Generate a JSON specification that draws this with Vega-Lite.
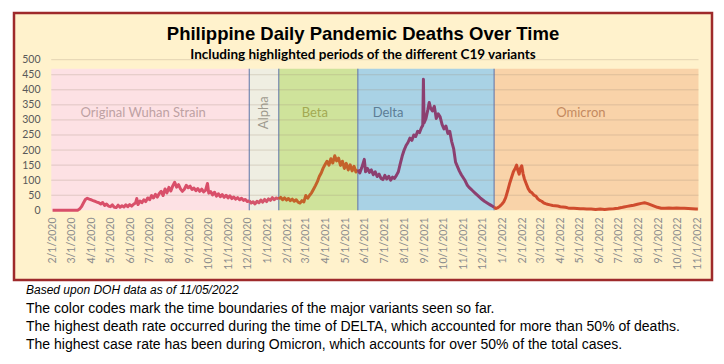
{
  "$schema": "https://vega.github.io/schema/vega-lite/v6.json",
  "autosize": {"type": "pad"},
  "padding": {"left": 12, "top": 11, "right": 0, "bottom": 0},
  "background": "white",
  "title": {
    "text": "Based upon DOH data as of 11/05/2022",
    "subtitle": [
      "The color codes mark the time boundaries of the major variants seen so far.",
      "The highest death rate occurred during the time of DELTA, which accounted for more than 50% of deaths.",
      "The highest case rate has been during Omicron, which accounts for over 50% of the total cases."
    ],
    "orient": "bottom",
    "anchor": "start",
    "frame": "group",
    "offset": 4,
    "dx": 12,
    "font": "Liberation Sans",
    "fontSize": 12,
    "fontStyle": "italic",
    "fontWeight": "normal",
    "color": "#000000",
    "subtitleFont": "Liberation Sans",
    "subtitleFontSize": 14,
    "subtitleColor": "#000000",
    "subtitleLineHeight": 17.8,
    "subtitlePadding": 5
  },
  "datasets": {
    "periods": [
      {"variant": "Wuhan", "start": "2020-01-30", "end": "2020-12-03"},
      {"variant": "Alpha", "start": "2020-12-03", "end": "2021-01-18"},
      {"variant": "Beta", "start": "2021-01-18", "end": "2021-05-21"},
      {"variant": "Delta", "start": "2021-05-21", "end": "2021-12-19"},
      {"variant": "Omicron", "start": "2021-12-19", "end": "2022-11-02"}
    ],
    "labels": [
      {"variant": "Wuhan", "text": "Original Wuhan Strain", "d": "2020-06-21", "v": 323},
      {"variant": "Alpha", "text": "Alpha", "d": "2020-12-26", "v": 324},
      {"variant": "Beta", "text": "Beta", "d": "2021-03-15", "v": 323},
      {"variant": "Delta", "text": "Delta", "d": "2021-07-07", "v": 323},
      {"variant": "Omicron", "text": "Omicron", "d": "2022-05-03", "v": 323}
    ],
    "grid": [{"v": 50}, {"v": 100}, {"v": 150}, {"v": 200}, {"v": 250}, {"v": 300}, {"v": 350}, {"v": 400}, {"v": 450}, {"v": 500}],
    "deaths": [
      {"d": "2020-02-01", "v": 0, "p": "Wuhan"}, {"d": "2020-02-15", "v": 0, "p": "Wuhan"}, {"d": "2020-03-01", "v": 0, "p": "Wuhan"}, {"d": "2020-03-11", "v": 0, "p": "Wuhan"},
      {"d": "2020-03-14", "v": 4, "p": "Wuhan"}, {"d": "2020-03-17", "v": 12, "p": "Wuhan"}, {"d": "2020-03-20", "v": 24, "p": "Wuhan"}, {"d": "2020-03-23", "v": 36, "p": "Wuhan"},
      {"d": "2020-03-26", "v": 40, "p": "Wuhan"}, {"d": "2020-03-29", "v": 37, "p": "Wuhan"}, {"d": "2020-04-01", "v": 35, "p": "Wuhan"}, {"d": "2020-04-04", "v": 32, "p": "Wuhan"},
      {"d": "2020-04-07", "v": 30, "p": "Wuhan"}, {"d": "2020-04-10", "v": 27, "p": "Wuhan"}, {"d": "2020-04-13", "v": 25, "p": "Wuhan"}, {"d": "2020-04-16", "v": 21, "p": "Wuhan"},
      {"d": "2020-04-19", "v": 26, "p": "Wuhan"}, {"d": "2020-04-22", "v": 16, "p": "Wuhan"}, {"d": "2020-04-25", "v": 21, "p": "Wuhan"}, {"d": "2020-04-28", "v": 14, "p": "Wuhan"},
      {"d": "2020-05-01", "v": 12, "p": "Wuhan"}, {"d": "2020-05-04", "v": 18, "p": "Wuhan"}, {"d": "2020-05-07", "v": 10, "p": "Wuhan"}, {"d": "2020-05-10", "v": 9, "p": "Wuhan"},
      {"d": "2020-05-13", "v": 17, "p": "Wuhan"}, {"d": "2020-05-16", "v": 10, "p": "Wuhan"}, {"d": "2020-05-19", "v": 15, "p": "Wuhan"}, {"d": "2020-05-22", "v": 11, "p": "Wuhan"},
      {"d": "2020-05-25", "v": 18, "p": "Wuhan"}, {"d": "2020-05-28", "v": 12, "p": "Wuhan"}, {"d": "2020-05-31", "v": 19, "p": "Wuhan"}, {"d": "2020-06-03", "v": 14, "p": "Wuhan"},
      {"d": "2020-06-06", "v": 20, "p": "Wuhan"}, {"d": "2020-06-09", "v": 24, "p": "Wuhan"}, {"d": "2020-06-11", "v": 39, "p": "Wuhan"}, {"d": "2020-06-13", "v": 19, "p": "Wuhan"},
      {"d": "2020-06-16", "v": 31, "p": "Wuhan"}, {"d": "2020-06-19", "v": 25, "p": "Wuhan"}, {"d": "2020-06-22", "v": 35, "p": "Wuhan"}, {"d": "2020-06-25", "v": 29, "p": "Wuhan"},
      {"d": "2020-06-28", "v": 41, "p": "Wuhan"}, {"d": "2020-07-01", "v": 35, "p": "Wuhan"}, {"d": "2020-07-04", "v": 49, "p": "Wuhan"}, {"d": "2020-07-07", "v": 41, "p": "Wuhan"},
      {"d": "2020-07-10", "v": 53, "p": "Wuhan"}, {"d": "2020-07-13", "v": 44, "p": "Wuhan"}, {"d": "2020-07-16", "v": 56, "p": "Wuhan"}, {"d": "2020-07-19", "v": 63, "p": "Wuhan"},
      {"d": "2020-07-22", "v": 49, "p": "Wuhan"}, {"d": "2020-07-25", "v": 71, "p": "Wuhan"}, {"d": "2020-07-28", "v": 58, "p": "Wuhan"}, {"d": "2020-07-31", "v": 76, "p": "Wuhan"},
      {"d": "2020-08-03", "v": 64, "p": "Wuhan"}, {"d": "2020-08-06", "v": 81, "p": "Wuhan"}, {"d": "2020-08-09", "v": 93, "p": "Wuhan"}, {"d": "2020-08-12", "v": 77, "p": "Wuhan"},
      {"d": "2020-08-15", "v": 85, "p": "Wuhan"}, {"d": "2020-08-18", "v": 71, "p": "Wuhan"}, {"d": "2020-08-21", "v": 63, "p": "Wuhan"}, {"d": "2020-08-24", "v": 70, "p": "Wuhan"},
      {"d": "2020-08-27", "v": 83, "p": "Wuhan"}, {"d": "2020-08-30", "v": 75, "p": "Wuhan"}, {"d": "2020-09-02", "v": 80, "p": "Wuhan"}, {"d": "2020-09-05", "v": 69, "p": "Wuhan"},
      {"d": "2020-09-08", "v": 74, "p": "Wuhan"}, {"d": "2020-09-11", "v": 65, "p": "Wuhan"}, {"d": "2020-09-14", "v": 72, "p": "Wuhan"}, {"d": "2020-09-17", "v": 63, "p": "Wuhan"},
      {"d": "2020-09-20", "v": 70, "p": "Wuhan"}, {"d": "2020-09-23", "v": 61, "p": "Wuhan"}, {"d": "2020-09-26", "v": 66, "p": "Wuhan"}, {"d": "2020-09-29", "v": 89, "p": "Wuhan"},
      {"d": "2020-10-01", "v": 57, "p": "Wuhan"}, {"d": "2020-10-04", "v": 62, "p": "Wuhan"}, {"d": "2020-10-07", "v": 51, "p": "Wuhan"}, {"d": "2020-10-10", "v": 60, "p": "Wuhan"},
      {"d": "2020-10-13", "v": 47, "p": "Wuhan"}, {"d": "2020-10-16", "v": 55, "p": "Wuhan"}, {"d": "2020-10-19", "v": 45, "p": "Wuhan"}, {"d": "2020-10-22", "v": 52, "p": "Wuhan"},
      {"d": "2020-10-25", "v": 43, "p": "Wuhan"}, {"d": "2020-10-28", "v": 50, "p": "Wuhan"}, {"d": "2020-10-31", "v": 41, "p": "Wuhan"}, {"d": "2020-11-03", "v": 48, "p": "Wuhan"},
      {"d": "2020-11-06", "v": 39, "p": "Wuhan"}, {"d": "2020-11-09", "v": 44, "p": "Wuhan"}, {"d": "2020-11-12", "v": 37, "p": "Wuhan"}, {"d": "2020-11-15", "v": 42, "p": "Wuhan"},
      {"d": "2020-11-18", "v": 35, "p": "Wuhan"}, {"d": "2020-11-21", "v": 40, "p": "Wuhan"}, {"d": "2020-11-24", "v": 33, "p": "Wuhan"}, {"d": "2020-11-27", "v": 36, "p": "Wuhan"},
      {"d": "2020-11-30", "v": 29, "p": "Wuhan"}, {"d": "2020-12-03", "v": 32, "p": "Wuhan"},
      {"d": "2020-12-03", "v": 32, "p": "Alpha"}, {"d": "2020-12-06", "v": 24, "p": "Alpha"}, {"d": "2020-12-09", "v": 28, "p": "Alpha"}, {"d": "2020-12-12", "v": 21, "p": "Alpha"},
      {"d": "2020-12-15", "v": 30, "p": "Alpha"}, {"d": "2020-12-18", "v": 25, "p": "Alpha"}, {"d": "2020-12-21", "v": 34, "p": "Alpha"}, {"d": "2020-12-24", "v": 27, "p": "Alpha"},
      {"d": "2020-12-27", "v": 36, "p": "Alpha"}, {"d": "2020-12-30", "v": 29, "p": "Alpha"}, {"d": "2021-01-02", "v": 38, "p": "Alpha"}, {"d": "2021-01-05", "v": 33, "p": "Alpha"},
      {"d": "2021-01-08", "v": 42, "p": "Alpha"}, {"d": "2021-01-11", "v": 35, "p": "Alpha"}, {"d": "2021-01-14", "v": 41, "p": "Alpha"}, {"d": "2021-01-18", "v": 38, "p": "Alpha"},
      {"d": "2021-01-18", "v": 38, "p": "Beta"}, {"d": "2021-01-21", "v": 43, "p": "Beta"}, {"d": "2021-01-24", "v": 35, "p": "Beta"}, {"d": "2021-01-27", "v": 41, "p": "Beta"},
      {"d": "2021-01-30", "v": 34, "p": "Beta"}, {"d": "2021-02-02", "v": 39, "p": "Beta"}, {"d": "2021-02-05", "v": 32, "p": "Beta"}, {"d": "2021-02-08", "v": 37, "p": "Beta"},
      {"d": "2021-02-11", "v": 30, "p": "Beta"}, {"d": "2021-02-14", "v": 35, "p": "Beta"}, {"d": "2021-02-17", "v": 27, "p": "Beta"}, {"d": "2021-02-20", "v": 24, "p": "Beta"},
      {"d": "2021-02-23", "v": 32, "p": "Beta"}, {"d": "2021-02-26", "v": 28, "p": "Beta"}, {"d": "2021-03-01", "v": 49, "p": "Beta"}, {"d": "2021-03-04", "v": 40, "p": "Beta"},
      {"d": "2021-03-07", "v": 50, "p": "Beta"}, {"d": "2021-03-10", "v": 58, "p": "Beta"}, {"d": "2021-03-13", "v": 70, "p": "Beta"}, {"d": "2021-03-16", "v": 82, "p": "Beta"},
      {"d": "2021-03-19", "v": 95, "p": "Beta"}, {"d": "2021-03-22", "v": 112, "p": "Beta"}, {"d": "2021-03-25", "v": 124, "p": "Beta"}, {"d": "2021-03-28", "v": 140, "p": "Beta"},
      {"d": "2021-03-31", "v": 152, "p": "Beta"}, {"d": "2021-04-03", "v": 163, "p": "Beta"}, {"d": "2021-04-06", "v": 150, "p": "Beta"}, {"d": "2021-04-09", "v": 171, "p": "Beta"},
      {"d": "2021-04-12", "v": 157, "p": "Beta"}, {"d": "2021-04-15", "v": 181, "p": "Beta"}, {"d": "2021-04-18", "v": 164, "p": "Beta"}, {"d": "2021-04-21", "v": 173, "p": "Beta"},
      {"d": "2021-04-24", "v": 149, "p": "Beta"}, {"d": "2021-04-27", "v": 163, "p": "Beta"}, {"d": "2021-04-30", "v": 139, "p": "Beta"}, {"d": "2021-05-03", "v": 156, "p": "Beta"},
      {"d": "2021-05-06", "v": 134, "p": "Beta"}, {"d": "2021-05-09", "v": 151, "p": "Beta"}, {"d": "2021-05-12", "v": 131, "p": "Beta"}, {"d": "2021-05-15", "v": 146, "p": "Beta"},
      {"d": "2021-05-18", "v": 127, "p": "Beta"}, {"d": "2021-05-21", "v": 135, "p": "Beta"},
      {"d": "2021-05-21", "v": 135, "p": "Delta"}, {"d": "2021-05-24", "v": 124, "p": "Delta"}, {"d": "2021-05-27", "v": 141, "p": "Delta"}, {"d": "2021-05-31", "v": 169, "p": "Delta"},
      {"d": "2021-06-02", "v": 128, "p": "Delta"}, {"d": "2021-06-05", "v": 139, "p": "Delta"}, {"d": "2021-06-08", "v": 126, "p": "Delta"}, {"d": "2021-06-11", "v": 134, "p": "Delta"},
      {"d": "2021-06-14", "v": 118, "p": "Delta"}, {"d": "2021-06-17", "v": 128, "p": "Delta"}, {"d": "2021-06-20", "v": 112, "p": "Delta"}, {"d": "2021-06-23", "v": 120, "p": "Delta"},
      {"d": "2021-06-26", "v": 106, "p": "Delta"}, {"d": "2021-06-29", "v": 102, "p": "Delta"}, {"d": "2021-07-02", "v": 116, "p": "Delta"}, {"d": "2021-07-05", "v": 104, "p": "Delta"},
      {"d": "2021-07-08", "v": 113, "p": "Delta"}, {"d": "2021-07-11", "v": 100, "p": "Delta"}, {"d": "2021-07-14", "v": 110, "p": "Delta"}, {"d": "2021-07-17", "v": 106, "p": "Delta"},
      {"d": "2021-07-20", "v": 116, "p": "Delta"}, {"d": "2021-07-23", "v": 128, "p": "Delta"}, {"d": "2021-07-26", "v": 155, "p": "Delta"}, {"d": "2021-07-29", "v": 180, "p": "Delta"},
      {"d": "2021-08-01", "v": 200, "p": "Delta"}, {"d": "2021-08-04", "v": 215, "p": "Delta"}, {"d": "2021-08-07", "v": 225, "p": "Delta"}, {"d": "2021-08-10", "v": 240, "p": "Delta"},
      {"d": "2021-08-13", "v": 232, "p": "Delta"}, {"d": "2021-08-16", "v": 250, "p": "Delta"}, {"d": "2021-08-19", "v": 245, "p": "Delta"}, {"d": "2021-08-22", "v": 262, "p": "Delta"},
      {"d": "2021-08-25", "v": 258, "p": "Delta"}, {"d": "2021-08-28", "v": 275, "p": "Delta"}, {"d": "2021-08-30", "v": 282, "p": "Delta"}, {"d": "2021-08-31", "v": 435, "p": "Delta"},
      {"d": "2021-09-01", "v": 290, "p": "Delta"}, {"d": "2021-09-04", "v": 305, "p": "Delta"}, {"d": "2021-09-07", "v": 335, "p": "Delta"}, {"d": "2021-09-09", "v": 358, "p": "Delta"},
      {"d": "2021-09-11", "v": 340, "p": "Delta"}, {"d": "2021-09-14", "v": 330, "p": "Delta"}, {"d": "2021-09-17", "v": 345, "p": "Delta"}, {"d": "2021-09-20", "v": 305, "p": "Delta"},
      {"d": "2021-09-23", "v": 320, "p": "Delta"}, {"d": "2021-09-26", "v": 310, "p": "Delta"}, {"d": "2021-09-29", "v": 285, "p": "Delta"}, {"d": "2021-10-02", "v": 270, "p": "Delta"},
      {"d": "2021-10-05", "v": 280, "p": "Delta"}, {"d": "2021-10-08", "v": 255, "p": "Delta"}, {"d": "2021-10-11", "v": 262, "p": "Delta"}, {"d": "2021-10-14", "v": 228, "p": "Delta"},
      {"d": "2021-10-17", "v": 205, "p": "Delta"}, {"d": "2021-10-20", "v": 160, "p": "Delta"}, {"d": "2021-10-23", "v": 145, "p": "Delta"}, {"d": "2021-10-26", "v": 130, "p": "Delta"},
      {"d": "2021-10-29", "v": 118, "p": "Delta"}, {"d": "2021-11-01", "v": 108, "p": "Delta"}, {"d": "2021-11-04", "v": 98, "p": "Delta"}, {"d": "2021-11-07", "v": 84, "p": "Delta"},
      {"d": "2021-11-10", "v": 76, "p": "Delta"}, {"d": "2021-11-13", "v": 70, "p": "Delta"}, {"d": "2021-11-16", "v": 64, "p": "Delta"}, {"d": "2021-11-19", "v": 58, "p": "Delta"},
      {"d": "2021-11-22", "v": 52, "p": "Delta"}, {"d": "2021-11-25", "v": 46, "p": "Delta"}, {"d": "2021-11-28", "v": 40, "p": "Delta"}, {"d": "2021-12-01", "v": 35, "p": "Delta"},
      {"d": "2021-12-04", "v": 30, "p": "Delta"}, {"d": "2021-12-07", "v": 26, "p": "Delta"}, {"d": "2021-12-10", "v": 22, "p": "Delta"}, {"d": "2021-12-13", "v": 18, "p": "Delta"},
      {"d": "2021-12-16", "v": 14, "p": "Delta"}, {"d": "2021-12-19", "v": 10, "p": "Delta"},
      {"d": "2021-12-19", "v": 10, "p": "Omicron"}, {"d": "2021-12-22", "v": 6, "p": "Omicron"}, {"d": "2021-12-25", "v": 9, "p": "Omicron"}, {"d": "2021-12-28", "v": 14, "p": "Omicron"},
      {"d": "2021-12-31", "v": 20, "p": "Omicron"}, {"d": "2022-01-03", "v": 28, "p": "Omicron"}, {"d": "2022-01-06", "v": 42, "p": "Omicron"}, {"d": "2022-01-09", "v": 64, "p": "Omicron"},
      {"d": "2022-01-12", "v": 88, "p": "Omicron"}, {"d": "2022-01-15", "v": 108, "p": "Omicron"}, {"d": "2022-01-18", "v": 128, "p": "Omicron"}, {"d": "2022-01-21", "v": 140, "p": "Omicron"},
      {"d": "2022-01-23", "v": 150, "p": "Omicron"}, {"d": "2022-01-25", "v": 132, "p": "Omicron"}, {"d": "2022-01-27", "v": 120, "p": "Omicron"}, {"d": "2022-01-29", "v": 140, "p": "Omicron"},
      {"d": "2022-01-31", "v": 148, "p": "Omicron"}, {"d": "2022-02-02", "v": 122, "p": "Omicron"}, {"d": "2022-02-04", "v": 105, "p": "Omicron"}, {"d": "2022-02-07", "v": 88, "p": "Omicron"},
      {"d": "2022-02-10", "v": 72, "p": "Omicron"}, {"d": "2022-02-13", "v": 62, "p": "Omicron"}, {"d": "2022-02-16", "v": 58, "p": "Omicron"}, {"d": "2022-02-19", "v": 50, "p": "Omicron"},
      {"d": "2022-02-22", "v": 47, "p": "Omicron"}, {"d": "2022-02-25", "v": 38, "p": "Omicron"}, {"d": "2022-02-28", "v": 33, "p": "Omicron"}, {"d": "2022-03-03", "v": 30, "p": "Omicron"},
      {"d": "2022-03-06", "v": 25, "p": "Omicron"}, {"d": "2022-03-09", "v": 22, "p": "Omicron"}, {"d": "2022-03-12", "v": 20, "p": "Omicron"}, {"d": "2022-03-16", "v": 18, "p": "Omicron"},
      {"d": "2022-03-20", "v": 16, "p": "Omicron"}, {"d": "2022-03-24", "v": 15, "p": "Omicron"}, {"d": "2022-03-28", "v": 14, "p": "Omicron"}, {"d": "2022-04-01", "v": 12, "p": "Omicron"},
      {"d": "2022-04-05", "v": 11, "p": "Omicron"}, {"d": "2022-04-09", "v": 10, "p": "Omicron"}, {"d": "2022-04-13", "v": 8, "p": "Omicron"}, {"d": "2022-04-17", "v": 7, "p": "Omicron"},
      {"d": "2022-04-22", "v": 7, "p": "Omicron"}, {"d": "2022-04-27", "v": 6, "p": "Omicron"}, {"d": "2022-05-02", "v": 5, "p": "Omicron"}, {"d": "2022-05-07", "v": 5, "p": "Omicron"},
      {"d": "2022-05-12", "v": 4, "p": "Omicron"}, {"d": "2022-05-19", "v": 4, "p": "Omicron"}, {"d": "2022-05-26", "v": 3, "p": "Omicron"}, {"d": "2022-06-02", "v": 4, "p": "Omicron"},
      {"d": "2022-06-09", "v": 3, "p": "Omicron"}, {"d": "2022-06-16", "v": 4, "p": "Omicron"}, {"d": "2022-06-23", "v": 5, "p": "Omicron"}, {"d": "2022-06-30", "v": 7, "p": "Omicron"},
      {"d": "2022-07-05", "v": 9, "p": "Omicron"}, {"d": "2022-07-09", "v": 11, "p": "Omicron"}, {"d": "2022-07-14", "v": 13, "p": "Omicron"}, {"d": "2022-07-19", "v": 15, "p": "Omicron"},
      {"d": "2022-07-24", "v": 17, "p": "Omicron"}, {"d": "2022-07-30", "v": 20, "p": "Omicron"}, {"d": "2022-08-05", "v": 23, "p": "Omicron"}, {"d": "2022-08-10", "v": 25, "p": "Omicron"},
      {"d": "2022-08-15", "v": 22, "p": "Omicron"}, {"d": "2022-08-20", "v": 18, "p": "Omicron"}, {"d": "2022-08-25", "v": 14, "p": "Omicron"}, {"d": "2022-08-30", "v": 10, "p": "Omicron"},
      {"d": "2022-09-05", "v": 7, "p": "Omicron"}, {"d": "2022-09-11", "v": 7, "p": "Omicron"}, {"d": "2022-09-17", "v": 8, "p": "Omicron"}, {"d": "2022-09-23", "v": 7, "p": "Omicron"},
      {"d": "2022-09-29", "v": 8, "p": "Omicron"}, {"d": "2022-10-05", "v": 7, "p": "Omicron"}, {"d": "2022-10-11", "v": 7, "p": "Omicron"}, {"d": "2022-10-17", "v": 6, "p": "Omicron"},
      {"d": "2022-10-23", "v": 5, "p": "Omicron"}, {"d": "2022-10-29", "v": 4, "p": "Omicron"}, {"d": "2022-11-01", "v": 4, "p": "Omicron"}
    ]
  },
  "vconcat": [
    {
      "width": 698,
      "height": 267,
      "view": {"fill": "#fff2cc", "stroke": "#9e2a2b", "strokeWidth": 2.5},
      "title": {
        "text": "Philippine Daily Pandemic Deaths Over Time",
        "subtitle": "Including highlighted periods of the different C19 variants",
        "anchor": "middle",
        "frame": "group",
        "orient": "top",
        "offset": -48,
        "font": "Liberation Sans",
        "fontSize": 18.5,
        "fontWeight": "bold",
        "color": "#000000",
        "subtitleFont": "Lato",
        "subtitleFontSize": 13.5,
        "subtitleFontWeight": "bold",
        "subtitleColor": "#000000",
        "subtitlePadding": 4
      },
      "layer": [
        {
          "data": {"name": "periods"},
          "mark": {"type": "rect"},
          "encoding": {
            "x": {
              "field": "start", "type": "temporal", "title": null,
              "scale": {"type": "utc", "nice": false, "domain": [{"year": 2019, "month": 12, "date": 3, "utc": true}, {"year": 2022, "month": 11, "date": 23, "utc": true}]},
              "axis": {
                "values": [
                  {"year": 2020, "month": 2, "date": 1, "utc": true}, {"year": 2020, "month": 3, "date": 1, "utc": true}, {"year": 2020, "month": 4, "date": 1, "utc": true},
                  {"year": 2020, "month": 5, "date": 1, "utc": true}, {"year": 2020, "month": 6, "date": 1, "utc": true}, {"year": 2020, "month": 7, "date": 1, "utc": true},
                  {"year": 2020, "month": 8, "date": 1, "utc": true}, {"year": 2020, "month": 9, "date": 1, "utc": true}, {"year": 2020, "month": 10, "date": 1, "utc": true},
                  {"year": 2020, "month": 11, "date": 1, "utc": true}, {"year": 2020, "month": 12, "date": 1, "utc": true}, {"year": 2021, "month": 1, "date": 1, "utc": true},
                  {"year": 2021, "month": 2, "date": 1, "utc": true}, {"year": 2021, "month": 3, "date": 1, "utc": true}, {"year": 2021, "month": 4, "date": 1, "utc": true},
                  {"year": 2021, "month": 5, "date": 1, "utc": true}, {"year": 2021, "month": 6, "date": 1, "utc": true}, {"year": 2021, "month": 7, "date": 1, "utc": true},
                  {"year": 2021, "month": 8, "date": 1, "utc": true}, {"year": 2021, "month": 9, "date": 1, "utc": true}, {"year": 2021, "month": 10, "date": 1, "utc": true},
                  {"year": 2021, "month": 11, "date": 1, "utc": true}, {"year": 2021, "month": 12, "date": 1, "utc": true}, {"year": 2022, "month": 1, "date": 1, "utc": true},
                  {"year": 2022, "month": 2, "date": 1, "utc": true}, {"year": 2022, "month": 3, "date": 1, "utc": true}, {"year": 2022, "month": 4, "date": 1, "utc": true},
                  {"year": 2022, "month": 5, "date": 1, "utc": true}, {"year": 2022, "month": 6, "date": 1, "utc": true}, {"year": 2022, "month": 7, "date": 1, "utc": true},
                  {"year": 2022, "month": 8, "date": 1, "utc": true}, {"year": 2022, "month": 9, "date": 1, "utc": true}, {"year": 2022, "month": 10, "date": 1, "utc": true},
                  {"year": 2022, "month": 11, "date": 1, "utc": true}
                ],
                "tickCount": 100,
                "labelExpr": "utcFormat(datum.value, '%-m/%-d/%Y')",
                "labelAngle": 270,
                "labelAlign": "right",
                "labelBaseline": "middle",
                "labelPadding": 7,
                "labelOverlap": false,
                "labelFlush": false,
                "labelBound": false,
                "labelFont": "Lato",
                "labelFontSize": 10.5,
                "labelColor": "#8c8c8c",
                "ticks": false,
                "domain": false,
                "grid": false,
                "offset": -70,
                "title": null
              }
            },
            "x2": {"field": "end"},
            "y": {
              "datum": 0, "type": "quantitative", "title": null,
              "scale": {"domain": [-231.4, 655], "nice": false, "zero": false},
              "axis": {
                "values": [0, 50, 100, 150, 200, 250, 300, 350, 400, 450, 500],
                "tickCount": 100,
                "labelOverlap": false,
                "labelFont": "Lato",
                "labelFontSize": 10.5,
                "labelColor": "#595959",
                "labelPadding": 2,
                "ticks": false,
                "domain": false,
                "grid": false,
                "offset": -28,
                "title": null
              }
            },
            "y2": {"datum": 470},
            "fill": {
              "field": "variant", "type": "nominal", "legend": null,
              "scale": {"domain": ["Wuhan", "Alpha", "Beta", "Delta", "Omicron"], "range": ["#fde1e4", "#efeee2", "#cfe39b", "#a9d2e5", "#f9d3a9"]}
            }
          }
        },
        {
          "data": {"name": "grid"},
          "mark": {"type": "rule", "color": "#a08c78", "opacity": 0.3, "strokeWidth": 1},
          "encoding": {
            "y": {"field": "v", "type": "quantitative", "title": null},
            "x": {"datum": {"year": 2020, "month": 1, "date": 30, "utc": true}, "type": "temporal"},
            "x2": {"datum": {"year": 2022, "month": 11, "date": 2, "utc": true}}
          }
        },
        {
          "data": {"name": "periods"},
          "transform": [{"filter": "datum.variant !== 'Wuhan'"}],
          "mark": {"type": "rule", "color": "#5d72a8", "strokeWidth": 1},
          "encoding": {
            "x": {"field": "start", "type": "temporal", "title": null},
            "y": {"datum": 0, "type": "quantitative"},
            "y2": {"datum": 470}
          }
        },
        {
          "data": {"name": "deaths"},
          "mark": {"type": "line", "strokeWidth": 3, "strokeJoin": "round"},
          "encoding": {
            "x": {"field": "d", "type": "temporal", "title": null},
            "y": {"field": "v", "type": "quantitative", "title": null},
            "stroke": {
              "field": "p", "type": "nominal", "legend": null,
              "scale": {"domain": ["Wuhan", "Alpha", "Beta", "Delta", "Omicron"], "range": ["#d94f6a", "#d4566c", "#c4622a", "#8c3f70", "#cf4b2d"]}
            }
          }
        },
        {
          "data": {"name": "labels"},
          "transform": [{"filter": "datum.variant !== 'Alpha'"}],
          "mark": {"type": "text", "font": "Lato", "fontSize": 13, "align": "center", "baseline": "middle"},
          "encoding": {
            "x": {"field": "d", "type": "temporal", "title": null},
            "y": {"field": "v", "type": "quantitative", "title": null},
            "text": {"field": "text"},
            "color": {
              "field": "variant", "type": "nominal", "legend": null,
              "scale": {"domain": ["Wuhan", "Alpha", "Beta", "Delta", "Omicron"], "range": ["#bda2a3", "#9e9a8e", "#a3a952", "#5d7d95", "#c48a60"]}
            }
          }
        },
        {
          "data": {"name": "labels"},
          "transform": [{"filter": "datum.variant === 'Alpha'"}],
          "mark": {"type": "text", "font": "Lato", "fontSize": 13, "align": "center", "baseline": "middle", "angle": 270},
          "encoding": {
            "x": {"field": "d", "type": "temporal", "title": null},
            "y": {"field": "v", "type": "quantitative", "title": null},
            "text": {"field": "text"},
            "color": {"field": "variant", "type": "nominal", "legend": null}
          }
        }
      ]
    }
  ],
  "config": {
    "concat": {"spacing": 0}
  }
}
